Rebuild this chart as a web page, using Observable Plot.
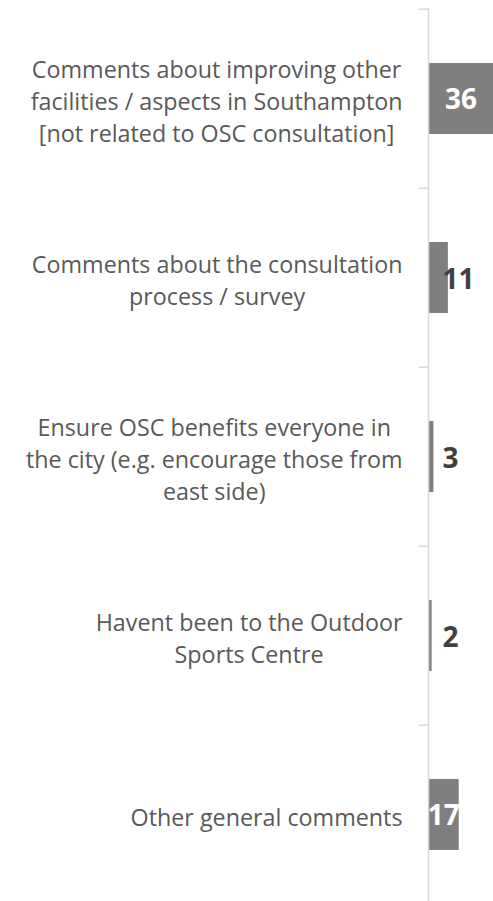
<!DOCTYPE html>
<html><head><meta charset="utf-8">
<script src="https://cdn.jsdelivr.net/npm/d3@7"></script>
<script src="https://cdn.jsdelivr.net/npm/@observablehq/plot@0.6"></script>
<style>html,body{margin:0;padding:0;background:#fff;overflow:hidden}</style>
</head><body><div id="chart"></div>
<script>
const categories = [
  "Comments about improving other\nfacilities / aspects in Southampton\n[not related to OSC consultation]",
  "Comments about the consultation\nprocess / survey",
  "Ensure OSC benefits everyone in\nthe city (e.g. encourage those from\neast side)",
  "Havent been to the Outdoor\nSports Centre",
  "Other general comments"
];
const values = [36, 11, 3, 2, 17];

const data = categories.map((c, i) => ({category: c, value: values[i]}));

const W = 493, H = 901;
const yTop = 8, yBottom = 905.5;
const step = (yBottom - yTop) / categories.length;
const catFontSize = 23.3;
const fontFamily = "'Open Sans', sans-serif";
const ctx = document.createElement("canvas").getContext("2d");
ctx.font = `${catFontSize}px 'Open Sans'`;
const blockWidth = s => Math.max(...s.split("\n").map(l => ctx.measureText(l).width));
const labelGap = 26;

const labelMarks = categories.map(c => Plot.text([c], {
  x: () => 0, y: d => d, text: d => d,
  textAnchor: "middle", lineHeight: 1.37,
  dx: -(labelGap + blockWidth(c) / 2), dy: 1,
  fill: "#595959", fontSize: catFontSize
}));

const chart = Plot.plot({
  width: W, height: H,
  marginLeft: 428, marginRight: 0, marginTop: yTop, marginBottom: 0,
  x: {domain: [0, 36], axis: null},
  y: {domain: categories, range: [yTop, yBottom], paddingInner: 0.604, paddingOuter: 0.302, axis: null},
  style: {fontFamily, background: "white"},
  marks: [
    Plot.barX(data, {x: "value", y: "category", fill: "#7f7f7f"}),
    Plot.ruleX([0], {stroke: "#d9d9d9", strokeWidth: 1.5}),
    Plot.axisY({tickSize: 9, tickFormat: () => "", label: null, stroke: "#d9d9d9", strokeWidth: 1.5, dy: -step / 2}),
    ...labelMarks,
    Plot.text(data.filter(d => d.value >= 15), {
      x: d => d.value / 2, y: "category", text: d => String(d.value),
      fill: "white", fontSize: 28, fontWeight: "bold", dy: 1
    }),
    Plot.text(data.filter(d => d.value < 15), {
      x: () => 0, y: "category", text: d => String(d.value),
      textAnchor: "start", dx: 14, dy: 2,
      fill: "#404040", fontSize: 28, fontWeight: "bold"
    })
  ]
});
document.getElementById("chart").appendChild(chart);
</script>
</body></html>
